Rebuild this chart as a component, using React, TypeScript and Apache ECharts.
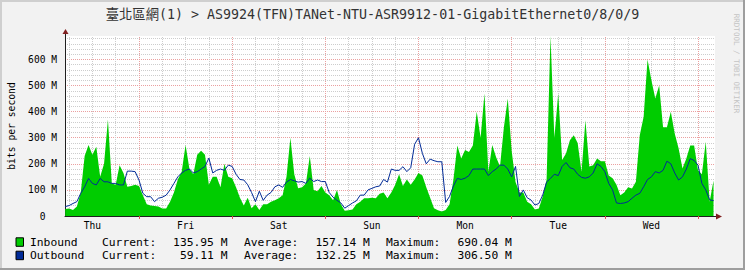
import React, { useEffect, useRef } from 'react';
import * as echarts from 'echarts';

const TITLE = '臺北區網(1) > AS9924(TFN)TANet-NTU-ASR9912-01-GigabitEthernet0/8/0/9';
const Y_TITLE = 'bits per second';
const WATERMARK = 'RRDTOOL / TOBI OETIKER';

const DAY_NAMES = ['Thu', 'Fri', 'Sat', 'Sun', 'Mon', 'Tue', 'Wed'];
const DAY_NOON_HOURS = [12, 36, 60, 84, 108, 132, 156];
const MIDNIGHT_HOURS = [24, 48, 72, 96, 120, 144, 168];
const SIX_HOUR_MARKS = [6, 12, 18, 30, 36, 42, 54, 60, 66, 78, 84, 90, 102, 108, 114, 126, 132, 138, 150, 156, 162];

const FIRST_SAMPLE_HOUR = 5; // hours since Thu 00:00, one sample per hour
const X_MIN_HOUR = 4.94;
const X_MAX_HOUR = 172.38;
const Y_MAX = 690;

// Inbound traffic (M bits/s), hourly from Thu 05:00
const INBOUND = [
  27, 29, 23, 36, 90, 230, 272, 235, 265, 150, 200, 370,
  125, 120, 195, 165, 112, 115, 120, 115, 80, 45, 40, 38,
  36, 29, 29, 55, 90, 140, 170, 272, 180, 160, 235, 250,
  235, 120, 150, 150, 110, 200, 150, 145, 110, 70, 40, 70,
  30, 45, 23, 45, 45, 55, 60, 68, 80, 150, 300, 160,
  106, 110, 125, 230, 100, 95, 115, 90, 80, 60, 100, 45,
  20, 22, 25, 45, 55, 68, 68, 70, 68, 85, 90, 68,
  90, 120, 160, 115, 140, 120, 140, 165, 155, 110, 70, 30,
  22, 17, 23, 45, 140, 270, 220, 253, 245, 270, 400, 300,
  470, 170, 272, 225, 190, 340, 450, 250, 130, 90, 90, 55,
  45, 25, 29, 75, 140, 690, 300, 470, 215, 240, 290, 310,
  280, 170, 367, 190, 195, 220, 210, 210, 155, 145, 120, 80,
  90, 110, 105, 131, 310, 380, 600, 520, 450, 500, 340, 340,
  400, 316, 260, 182, 220, 270, 270, 175, 160, 285, 55, 136,
];

// Outbound traffic (M bits/s), hourly from Thu 05:00
const OUTBOUND = [
  36, 40, 48, 55, 87, 112, 144, 125, 119, 144, 131, 131,
  125, 125, 119, 119, 172, 172, 170, 138, 87, 74, 74, 55,
  68, 72, 80, 100, 125, 150, 165, 175, 180, 165, 170, 180,
  190, 222, 165, 175, 180, 175, 195, 190, 160, 140, 138, 120,
  90, 55, 95, 60, 80, 90, 112, 119, 110, 130, 140, 135,
  130, 132, 125, 145, 132, 138, 132, 132, 90, 72, 60, 50,
  30, 40, 50, 58, 80, 80, 100, 106, 112, 115, 140, 130,
  180, 175, 175, 189, 170, 185, 275, 300, 240, 200, 218, 212,
  208, 208, 52, 75, 115, 144, 140, 145, 155, 180, 180, 180,
  180, 155, 170, 180, 195, 195, 180, 150, 190, 75, 100, 70,
  61, 42, 48, 80, 130, 144, 160, 155, 190, 205, 185, 180,
  160, 148, 145, 150, 165, 200, 190, 170, 125, 100, 50, 48,
  50, 55, 68, 80, 87, 112, 140, 150, 170, 165, 175, 210,
  200, 165, 138, 150, 180, 220, 213, 195, 125, 100, 62, 59,
];

const LEGEND_NAMES = ['Inbound', 'Outbound'];
const LEGEND_COLORS = ['#00CC00', '#002A97'];
const STAT_LABELS = ['Current:', 'Average:', 'Maximum:'];
const INBOUND_STATS = ['135.95 M', '157.14 M', '690.04 M'];
const OUTBOUND_STATS = ['59.11 M', '132.25 M', '306.50 M'];

const MONO = '"DejaVu Sans Mono", "Noto Sans CJK TC", monospace';
const BACK = '#F2F2F2';
const SHADE_A = '#CFCFCF';
const SHADE_B = '#9E9E9E';
const GRID_COLOR = '#CDCDCD';
const MGRID_COLOR = '#EBA0A0';
const AXIS_COLOR = '#1F1F1F';
const ARROW_COLOR = '#801F1F';

export default function App() {
  const ref = useRef<HTMLDivElement>(null);

  useEffect(() => {
    if (!ref.current) return;
    const chart = echarts.init(ref.current, undefined, { renderer: 'svg' });

    const hours = INBOUND.map((_, i) => FIRST_SAMPLE_HOUR + i);
    const inData = hours.map((h, i) => [h, INBOUND[i]]);
    const outData = hours.map((h, i) => [h, OUTBOUND[i]]);

    const legendStats = [INBOUND_STATS, OUTBOUND_STATS];
    const statLabelX = [102, 244, 386];
    const statValueRight = [227.5, 369.8, 511.8];
    const legendGraphics: any[] = [];
    LEGEND_NAMES.forEach((name, r) => {
      const cy = 242.3 + r * 13.4;
      legendGraphics.push({
        type: 'rect', silent: true,
        shape: { x: 16, y: cy - 4.5, width: 7.5, height: 8.5 },
        style: { fill: LEGEND_COLORS[r], stroke: '#000', lineWidth: 1 },
      });
      legendGraphics.push({
        type: 'text', silent: true, x: 30, y: cy,
        style: { text: name, fill: '#000', fontSize: 11.3, fontFamily: MONO, align: 'left', verticalAlign: 'middle' },
      });
      STAT_LABELS.forEach((lab, k) => {
        legendGraphics.push({
          type: 'text', silent: true, x: statLabelX[k], y: cy,
          style: { text: lab, fill: '#000', fontSize: 11.3, fontFamily: MONO, align: 'left', verticalAlign: 'middle' },
        });
        legendGraphics.push({
          type: 'text', silent: true, x: statValueRight[k], y: cy,
          style: { text: legendStats[r][k], fill: '#000', fontSize: 11.3, fontFamily: MONO, align: 'right', verticalAlign: 'middle' },
        });
      });
    });

    const vLines = [
      ...SIX_HOUR_MARKS.map((h) => ({ xAxis: h, lineStyle: { color: GRID_COLOR, type: [1, 1], width: 1 } })),
      ...MIDNIGHT_HOURS.map((h) => ({ xAxis: h, lineStyle: { color: MGRID_COLOR, type: [1, 1], width: 1 } })),
    ];

    const option: any = {
      animation: false,
      backgroundColor: BACK,
      grid: {
        left: 65, top: 36, width: 650, height: 180,
        show: true, backgroundColor: '#FFFFFF', borderWidth: 0,
        containLabel: false, outerBoundsMode: 'none',
      },
      xAxis: {
        type: 'value',
        min: X_MIN_HOUR,
        max: X_MAX_HOUR,
        axisLine: { show: true, lineStyle: { color: AXIS_COLOR, width: 1 } },
        axisTick: { show: true, customValues: MIDNIGHT_HOURS, length: 3, lineStyle: { color: '#DE5050' } },
        splitLine: { show: false },
        axisLabel: {
          customValues: DAY_NOON_HOURS,
          formatter: (v: number) => DAY_NAMES[DAY_NOON_HOURS.indexOf(v)] ?? '',
          fontFamily: MONO, fontSize: 9.6, color: '#000', margin: 4.5,
        },
      },
      yAxis: {
        type: 'value',
        min: 0,
        max: Y_MAX,
        interval: 20,
        name: Y_TITLE,
        nameLocation: 'middle',
        nameRotate: 90,
        nameGap: 49,
        nameTextStyle: { fontFamily: MONO, fontSize: 9.7, color: '#000' },
        axisLine: { show: true, lineStyle: { color: AXIS_COLOR, width: 1 } },
        axisTick: { show: false },
        splitLine: {
          show: true,
          showMaxLine: false,
          lineStyle: { color: [MGRID_COLOR, GRID_COLOR, GRID_COLOR, GRID_COLOR, GRID_COLOR], type: [1, 1], width: 1 },
        },
        axisLabel: {
          margin: 8,
          fontFamily: MONO, fontSize: 9.6, color: '#000',
          formatter: (v: number) => (v === 0 ? '{z|0}' : v % 100 === 0 ? `${v} M` : ''),
          rich: { z: { fontFamily: MONO, fontSize: 9.6, color: '#000', padding: [0, 11.6, 0, 0] } },
        },
      },
      series: [
        {
          type: 'line', name: 'grid', data: [], silent: true, z: 1,
          markLine: { silent: true, z: 1, symbol: ['none', 'none'], label: { show: false }, data: vLines },
        },
        {
          type: 'line', name: 'Inbound', data: inData, symbol: 'none', silent: true, z: 3,
          lineStyle: { opacity: 0, width: 0 },
          itemStyle: { color: LEGEND_COLORS[0] },
          areaStyle: { color: LEGEND_COLORS[0], opacity: 1 },
        },
        {
          type: 'line', name: 'Outbound', data: outData, symbol: 'none', silent: true, z: 4,
          lineStyle: { color: LEGEND_COLORS[1], width: 1 },
          itemStyle: { color: LEGEND_COLORS[1] },
        },
      ],
      graphic: [
        { type: 'rect', silent: true, shape: { x: 0, y: 0, width: 745, height: 2 }, style: { fill: SHADE_A } },
        { type: 'rect', silent: true, shape: { x: 0, y: 0, width: 2, height: 270 }, style: { fill: SHADE_A } },
        { type: 'rect', silent: true, shape: { x: 0, y: 268, width: 745, height: 2 }, style: { fill: SHADE_B } },
        { type: 'rect', silent: true, shape: { x: 743, y: 0, width: 2, height: 270 }, style: { fill: SHADE_B } },
        { type: 'line', silent: true, shape: { x1: 65.5, y1: 32, x2: 65.5, y2: 36 }, style: { stroke: AXIS_COLOR, lineWidth: 1 } },
        { type: 'line', silent: true, shape: { x1: 715, y1: 216.5, x2: 718, y2: 216.5 }, style: { stroke: AXIS_COLOR, lineWidth: 1 } },
        { type: 'polygon', silent: true, shape: { points: [[62.5, 34], [68.5, 34], [65.5, 29]] }, style: { fill: ARROW_COLOR } },
        { type: 'polygon', silent: true, shape: { points: [[716, 213.5], [716, 219.5], [722, 216.5]] }, style: { fill: ARROW_COLOR } },
        {
          type: 'text', silent: true, x: 372.5, y: 14,
          style: { text: TITLE, fill: '#333', fontSize: 13.3, fontFamily: MONO, align: 'center', verticalAlign: 'middle' },
        },
        {
          type: 'text', silent: true, x: 736, y: 63.5, rotation: -Math.PI / 2,
          style: { text: WATERMARK, fill: '#C4C4C4', fontSize: 7.5, fontFamily: MONO, align: 'center', verticalAlign: 'middle' },
        },
        ...legendGraphics,
      ],
    };

    chart.setOption(option);
    return () => chart.dispose();
  }, []);

  return (
    <div
      ref={ref}
      style={{ position: 'absolute', left: 0, top: 0, width: 745, height: 270 }}
    />
  );
}
